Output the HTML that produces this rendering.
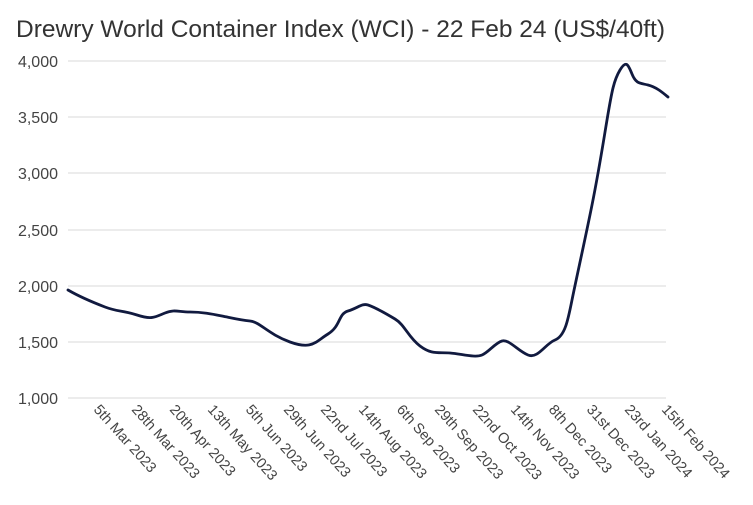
<!DOCTYPE html>
<html><head><meta charset="utf-8"><style>
body{margin:0;background:#fff;width:753px;height:500px;overflow:hidden;font-family:"Liberation Sans",Arial,sans-serif}
</style></head><body>
<svg width="753" height="500" viewBox="0 0 753 500" xmlns="http://www.w3.org/2000/svg" font-family="Liberation Sans, Arial, sans-serif">
<text x="16" y="37" font-size="24.5" fill="#333">Drewry World Container Index (WCI) - 22 Feb 24 (US$/40ft)</text>
<g stroke="#e6e6e6" stroke-width="1.5">
<line x1="68" x2="666" y1="61" y2="61"/><line x1="68" x2="666" y1="117" y2="117"/>
<line x1="68" x2="666" y1="173" y2="173"/><line x1="68" x2="666" y1="230" y2="230"/>
<line x1="68" x2="666" y1="286" y2="286"/><line x1="68" x2="666" y1="342" y2="342"/>
<line x1="68" x2="666" y1="398" y2="398"/>
</g>
<g font-size="16" fill="#444" text-anchor="end">
<text x="58" y="67">4,000</text><text x="58" y="123">3,500</text><text x="58" y="179">3,000</text>
<text x="58" y="236">2,500</text><text x="58" y="292">2,000</text><text x="58" y="348">1,500</text>
<text x="58" y="404">1,000</text>
</g>
<g font-size="14.5" fill="#444">
<text transform="translate(93,410) rotate(48)">5th Mar 2023</text>
<text transform="translate(131,410) rotate(48)">28th Mar 2023</text>
<text transform="translate(169,410) rotate(48)">20th Apr 2023</text>
<text transform="translate(207,410) rotate(48)">13th May 2023</text>
<text transform="translate(245,410) rotate(48)">5th Jun 2023</text>
<text transform="translate(283,410) rotate(48)">29th Jun 2023</text>
<text transform="translate(320,410) rotate(48)">22nd Jul 2023</text>
<text transform="translate(358,410) rotate(48)">14th Aug 2023</text>
<text transform="translate(396,410) rotate(48)">6th Sep 2023</text>
<text transform="translate(434,410) rotate(48)">29th Sep 2023</text>
<text transform="translate(472,410) rotate(48)">22nd Oct 2023</text>
<text transform="translate(510,410) rotate(48)">14th Nov 2023</text>
<text transform="translate(548,410) rotate(48)">8th Dec 2023</text>
<text transform="translate(586,410) rotate(48)">31st Dec 2023</text>
<text transform="translate(624,410) rotate(48)">23rd Jan 2024</text>
<text transform="translate(661,410) rotate(48)">15th Feb 2024</text>
</g>
<path fill="none" stroke="#111a3f" stroke-width="2.8" stroke-linejoin="round" stroke-linecap="round" d="M68,290 C80,297 92,302 105,307 S122,310 137,315 S155,317 165,313 S178,312 190,312 S212,314 222,316 S240,320 250,321 S268,334 290,342 S315,342 328,334 S338,314 348,311 S362,303 368,305 S385,313 395,319 S408,337 420,346 S438,352 450,353 S475,358 482,355 S495,343 502,341 S518,351 528,355 S545,344 555,340 S568,320 572,300 S585,240 592,205 S602,150 607,120 S614,80 620,70 S628,64 632,74 S640,83 648,85 S662,92 668,97"/>
</svg>
</body></html>
